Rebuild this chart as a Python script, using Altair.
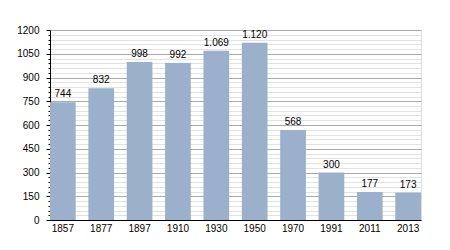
import altair as alt
import pandas as pd

years = ["1857", "1877", "1897", "1910", "1930", "1950", "1970", "1991", "2011", "2013"]
population = [744, 832, 998, 992, 1069, 1120, 568, 300, 177, 173]
y_ticks = list(range(0, 1201, 30))

df = pd.DataFrame({"year": years, "pop": population})

FONT = "Liberation Sans"

x = alt.X(
    "year:N",
    sort=years,
    title=None,
    scale=alt.Scale(paddingInner=0.33, paddingOuter=0),
    axis=alt.Axis(
        labelAngle=0, ticks=False, labelPadding=3, domainColor="#000000",
        labelFont=FONT, labelFontSize=10, labelColor="#000000", grid=False,
    ),
)
y = alt.Y(
    "pop:Q",
    title=None,
    scale=alt.Scale(domain=[0, 1200], nice=False),
    axis=alt.Axis(
        values=y_ticks,
        labelExpr="datum.value % 150 === 0 ? datum.label : ''",
        grid=True,
        gridColor=alt.condition("datum.value % 150 === 0", alt.value("#aaaaaa"), alt.value("#e2e2e2")),
        gridWidth=1,
        tickSize=alt.condition("datum.value % 150 === 0", alt.value(4), alt.value(2)),
        tickColor="#000000",
        domainColor="#000000",
        labelPadding=7,
        labelFont=FONT, labelFontSize=10, labelColor="#000000",
        format="d",
    ),
)

bars = alt.Chart(df).mark_bar(color="#9ab0cb").encode(x=x, y=y)
labels = alt.Chart(df).transform_calculate(
    lbl="replace(format(datum.pop, ','), ',', '.')"
).mark_text(baseline="bottom", dy=-3, font=FONT, fontSize=10, color="#000000").encode(
    x=x, y=y, text="lbl:N"
)

chart = (bars + labels).properties(
    width=371, height=190,
    autosize=alt.AutoSizeParams(type="none"),
    padding={"left": 50, "top": 30, "right": 29, "bottom": 30},
).configure_view(stroke=None).configure(background="#ffffff")

chart.save("out.html", embed_options={"renderer": "svg", "actions": False})
